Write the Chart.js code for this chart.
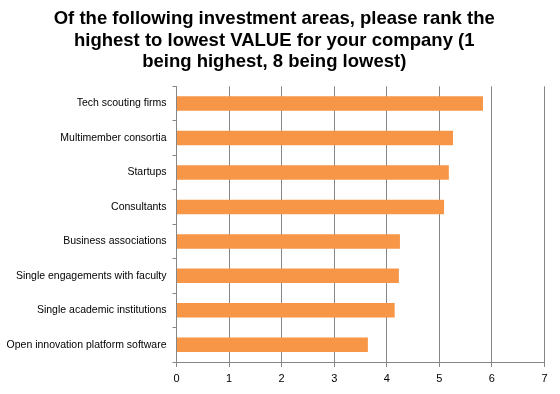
<!DOCTYPE html>
<html>
<head>
<meta charset="utf-8">
<script src="https://cdn.jsdelivr.net/npm/chart.js@4"></script>
<style>
  html, body { margin: 0; padding: 0; background: #fff; }
  #wrap { width: 560px; height: 394px; }
</style>
</head>
<body>
<div id="wrap"><canvas id="chart" width="560" height="394"></canvas></div>
<script>
const titleLines = [
    "Of the following investment areas, please rank the",
    "highest to lowest VALUE for your company (1",
    "being highest, 8 being lowest)"
];

const areas = [
    "Tech scouting firms",
    "Multimember consortia",
    "Startups",
    "Consultants",
    "Business associations",
    "Single engagements with faculty",
    "Single academic institutions",
    "Open innovation platform software"
];

const scores = [5.83, 5.26, 5.18, 5.09, 4.25, 4.23, 4.15, 3.64];

const axisMin = 0;
const axisMax = 7;

const gridGray = "#868686";
const fontFamily = "'Liberation Sans', Arial, sans-serif";

// left pad small so the longest label isn't clipped
const padLeft = 4;
const padRight = 15.5;

new Chart(document.getElementById("chart").getContext("2d"), {
    type: "bar",
    data: {
        labels: areas,
        datasets: [{
            data: scores,
            backgroundColor: "#F79646",
            borderWidth: 0,
            categoryPercentage: 1,
            barPercentage: 0.42
        }]
    },
    options: {
        indexAxis: "y",
        responsive: false,
        animation: false,
        layout: { padding: { left: padLeft, right: padRight, top: 0, bottom: 0 } },
        plugins: {
            legend: { display: false },
            tooltip: { enabled: false },
            title: {
                display: true,
                text: titleLines,
                color: "#000",
                font: { family: fontFamily, size: 18.5, weight: "bold", lineHeight: 1.15 },
                padding: { top: 8.5, bottom: 14 }
            }
        },
        scales: {
            x: {
                min: axisMin,
                max: axisMax,
                ticks: {
                    stepSize: 1,
                    color: "#000",
                    padding: 5,
                    font: { family: fontFamily, size: 11 }
                },
                grid: {
                    color: gridGray,
                    lineWidth: 1,
                    tickLength: 5
                },
                border: { display: true, color: gridGray },
                afterFit(scale) { scale.height = 32; }
            },
            y: {
                ticks: {
                    color: "#000",
                    padding: 6,
                    font: { family: fontFamily, size: 10.5 }
                },
                grid: {
                    offset: true,
                    drawOnChartArea: false,
                    color: gridGray,
                    tickLength: 4
                },
                border: { display: true, color: gridGray },
                afterFit(scale) { scale.width = 176.5 - padLeft; }
            }
        }
    }
});
</script>
</body>
</html>
